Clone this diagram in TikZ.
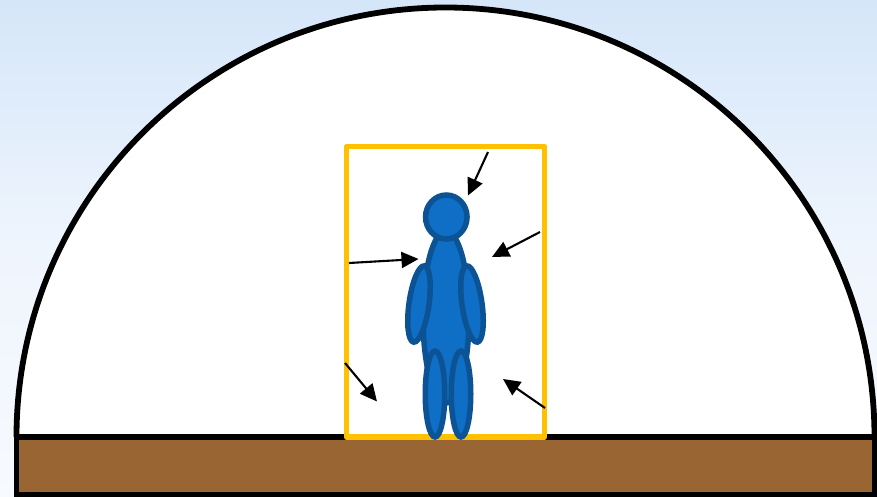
\documentclass[tikz,border=0pt]{standalone}
\usetikzlibrary{arrows.meta,shapes.geometric}
\definecolor{skytop}{HTML}{D5E6F9}
\definecolor{skymid}{HTML}{EFF5FD}
\definecolor{skybot}{HTML}{F7FAFF}
\definecolor{soil}{HTML}{996633}
\definecolor{frameyellow}{HTML}{FFC000}
\definecolor{bodyfill}{HTML}{0F6FC6}
\definecolor{bodyline}{HTML}{0B5394}
\tikzset{
  dome/.style={draw=black,line width=5.8pt,fill=white},
  ground/.style={draw=black,line width=5.8pt,fill=soil},
  frame/.style={draw=frameyellow,line width=5.4pt,line join=round},
  limb/.style={ellipse,draw=bodyline,fill=bodyfill,line width=5.5pt,inner sep=0pt,outer sep=0pt},
  ray/.style={draw=black,line width=2.1pt,-{Triangle[length=17pt,width=16pt]}}
}
\begin{document}
\begin{tikzpicture}[x=1pt,y=-1pt]
\useasboundingbox (0,0) rectangle (877,497);
\shade[top color=skytop,bottom color=skybot,middle color=skymid] (0,0) rectangle (877,497);
\draw[dome] (16.5,437) arc[start angle=180,end angle=0,x radius=429,y radius=-429.5];
\draw[ground] (16.5,437) rectangle (874.5,494.5);
\draw[frame] (346.5,146.5) rectangle (544.5,437);
\node[limb,minimum width=46pt,minimum height=172pt] (torso) at (446,317) {};
\node[limb,minimum width=20pt,minimum height=77pt,rotate=-8] (armL) at (419,304) {};
\node[limb,minimum width=20pt,minimum height=77pt,rotate=8] (armR) at (472,304) {};
\node[limb,minimum width=19.5pt,minimum height=86pt] (legL) at (435,394) {};
\node[limb,minimum width=19.5pt,minimum height=86pt] (legR) at (461,394) {};
\node[limb,minimum width=41.5pt,minimum height=44pt] (head) at (446.3,217) {};
\coordinate (a1) at (488,152); \coordinate (b1) at (468,195.5);
\coordinate (a2) at (540,232); \coordinate (b2) at (492,257);
\coordinate (a3) at (349,263); \coordinate (b3) at (418.5,259);
\coordinate (a4) at (345,363); \coordinate (b4) at (377,401.5);
\coordinate (a5) at (545,408); \coordinate (b5) at (503,379);
\draw[ray] (a1) -- (b1);
\draw[ray] (a2) -- (b2);
\draw[ray] (a3) -- (b3);
\draw[ray] (a4) -- (b4);
\draw[ray] (a5) -- (b5);
\end{tikzpicture}
\end{document}
